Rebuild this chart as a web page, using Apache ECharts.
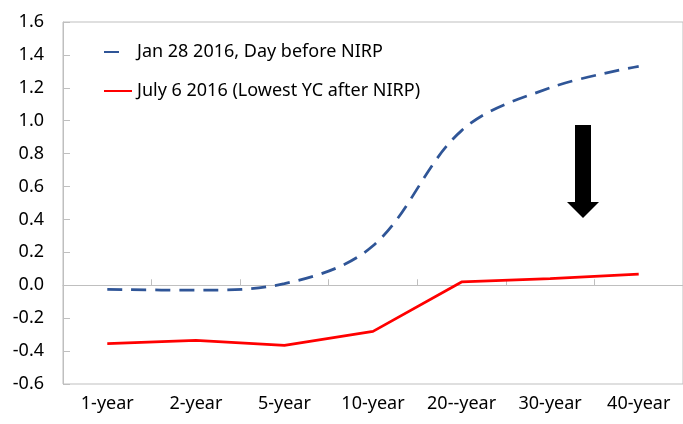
<!DOCTYPE html>
<html>
<head>
<meta charset="utf-8">
<script src="https://cdn.jsdelivr.net/npm/echarts@6/dist/echarts.min.js"></script>
<style>
  html, body { margin: 0; padding: 0; background: #fff; }
  #chart { width: 683px; height: 424px; }
</style>
</head>
<body>
<div id="chart"></div>
<script>
// tenors on the x axis
var categories = ['1-year', '2-year', '5-year', '10-year', '20--year', '30-year', '40-year'];
// yield curves (%)
var jan28 = [-0.025, -0.03, 0.01, 0.24, 0.94, 1.20, 1.33];
var jul6 = [-0.355, -0.335, -0.365, -0.28, 0.02, 0.04, 0.067];
var seriesNames = ['Jan 28 2016, Day before NIRP', 'July 6 2016 (Lowest YC after NIRP)'];

var font = 'Noto Sans';
var chart = echarts.init(document.getElementById('chart'));

chart.setOption({
  animation: false,
  grid: {
    left: 63, top: 22, width: 633, height: 362,
    show: true, borderColor: '#bfbfbf', borderWidth: 1, backgroundColor: 'transparent'
  },
  legend: {
    orient: 'vertical',
    left: 98, top: 38,
    itemWidth: 28, itemHeight: 14, itemGap: 21,
    itemStyle: { opacity: 0 },
    textStyle: { fontFamily: font, fontSize: 18, color: '#000' },
    data: [
      { name: seriesNames[0], lineStyle: { type: [15, 30] } },
      { name: seriesNames[1] }
    ]
  },
  xAxis: [
    {
      // labels along the bottom of the plot
      type: 'category',
      data: categories,
      position: 'bottom',
      axisLine: { show: false, onZero: false },
      axisTick: { show: false },
      axisLabel: { interval: 0, fontFamily: font, fontSize: 18, color: '#000', margin: 11 }
    },
    {
      // zero line with its tick marks
      type: 'category',
      data: categories,
      position: 'bottom',
      axisLine: { show: true, onZero: true, lineStyle: { color: '#bfbfbf', width: 1 } },
      axisTick: { show: true, inside: true, length: 6, interval: 0, lineStyle: { color: '#bfbfbf' } },
      axisLabel: { show: false }
    }
  ],
  yAxis: {
    type: 'value',
    min: -0.6, max: 1.6, interval: 0.2,
    axisLine: { show: true, lineStyle: { color: '#bfbfbf' } },
    axisTick: { show: true, inside: true, length: 7, lineStyle: { color: '#bfbfbf' } },
    splitLine: { show: false },
    axisLabel: {
      fontFamily: font, fontSize: 18, color: '#000', margin: 19,
      formatter: function (v) { return v.toFixed(1); }
    }
  },
  series: [
    {
      name: seriesNames[0],
      type: 'line',
      data: jan28,
      smooth: 0.35,
      symbol: 'none',
      lineStyle: { color: '#2f5597', width: 2.75, type: [15, 9] },
      itemStyle: { color: '#2f5597' }
    },
    {
      name: seriesNames[1],
      type: 'line',
      data: jul6,
      symbol: 'none',
      lineStyle: { color: '#ff0000', width: 2.75 },
      itemStyle: { color: '#ff0000' }
    }
  ],
  graphic: [
    {
      // down arrow annotation
      type: 'polygon',
      shape: {
        points: [[575, 125], [591, 125], [591, 202], [599, 202], [583, 218], [567, 202], [575, 202]]
      },
      style: { fill: '#000' }
    }
  ]
});
</script>
</body>
</html>
